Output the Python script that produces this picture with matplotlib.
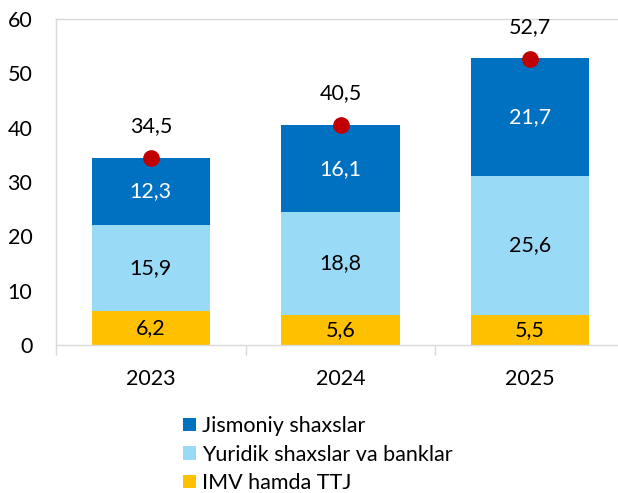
import matplotlib
matplotlib.use("Agg")
import matplotlib.pyplot as plt
import numpy as np

plt.rcParams['font.family'] = ['Lato', 'DejaVu Sans']

years = ["2023", "2024", "2025"]
imv = [6.2, 5.6, 5.5]
yuridik = [15.9, 18.8, 25.6]
jismoniy = [12.3, 16.1, 21.7]
totals = [34.5, 40.5, 52.7]
labels = ["Jismoniy shaxslar", "Yuridik shaxslar va banklar", "IMV hamda TTJ"]
yticks = [0, 10, 20, 30, 40, 50, 60]

c_dark = "#0070C0"
c_light = "#99DBF7"
c_yellow = "#FFC000"
c_dot = "#C00000"
grid_c = "#D9D9D9"

fig = plt.figure(figsize=(6.18, 4.93), dpi=100)
ax = fig.add_axes([56/618, 148/493, 569/618, 326/493])

x = np.arange(len(years))
w = 0.625
imv_a = np.array(imv)
yur_a = np.array(yuridik)
jis_a = np.array(jismoniy)

b1 = ax.bar(x, imv_a, w, color=c_yellow, label=labels[2], zorder=2)
b2 = ax.bar(x, yur_a, w, bottom=imv_a, color=c_light, label=labels[1], zorder=2)
b3 = ax.bar(x, jis_a, w, bottom=imv_a + yur_a, color=c_dark, label=labels[0], zorder=2)
ax.plot(x, totals, 'o', color=c_dot, markersize=11, zorder=4)

fs = 15.5
for i in range(len(years)):
    ax.text(x[i], imv_a[i] / 2, f"{imv[i]:.1f}".replace('.', ','), ha='center', va='center', fontsize=fs, color='black', zorder=5)
    ax.text(x[i], imv_a[i] + yur_a[i] / 2, f"{yuridik[i]:.1f}".replace('.', ','), ha='center', va='center', fontsize=fs, color='black', zorder=5)
    ax.text(x[i], imv_a[i] + yur_a[i] + jis_a[i] / 2, f"{jismoniy[i]:.1f}".replace('.', ','), ha='center', va='center', fontsize=fs, color='white', zorder=5)
    ax.annotate(f"{totals[i]:.1f}".replace('.', ','), (x[i], totals[i]), xytext=(0, 23), textcoords='offset points',
                ha='center', va='center', fontsize=fs, color='black', zorder=5)

ax.set_xlim(-0.5, 2.5)
ax.set_ylim(0, 60)
ax.set_yticks(yticks)
ax.set_yticklabels([str(t) for t in yticks], fontsize=fs)
ax.tick_params(axis='y', length=0, pad=17)
ax.set_xticks(x)
ax.set_xticklabels(years, fontsize=fs)
ax.tick_params(axis='x', length=0, pad=17)
ax.set_xticks([-0.5, 0.5, 1.5, 2.5], minor=True)
ax.tick_params(axis='x', which='minor', length=7, color=grid_c, width=1)
for s in ax.spines.values():
    s.set_color(grid_c)
    s.set_linewidth(1)

handles = [b3, b2, b1]
leg = fig.legend(handles, labels, loc='upper left', bbox_to_anchor=(183/618, 1 - 416/493),
                 frameon=False, fontsize=fs, handlelength=0.6, handleheight=0.6,
                 handletextpad=0.3, labelspacing=0.4, borderpad=0, borderaxespad=0)

fig.savefig("out.png", dpi=100)
